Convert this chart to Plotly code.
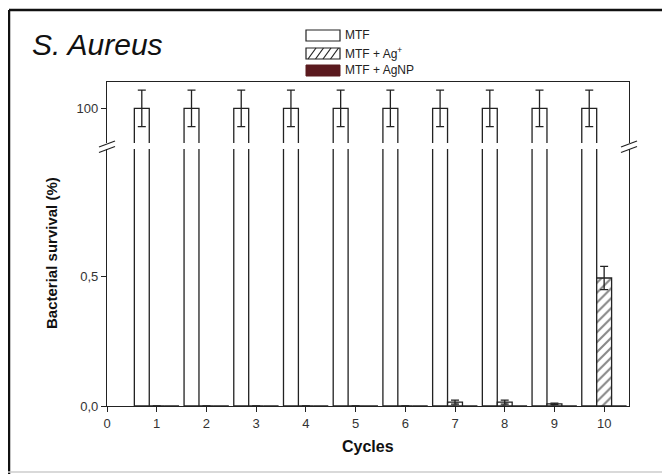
import plotly.graph_objects as go

cycles = [1, 2, 3, 4, 5, 6, 7, 8, 9, 10]
mtf = [100, 100, 100, 100, 100, 100, 100, 100, 100, 100]
mtf_err = [10, 10, 10, 10, 10, 10, 10, 10, 10, 10]
ag_ion = [0, 0, 0, 0, 0, 0, 0.015, 0.015, 0.008, 0.495]
ag_ion_err = [0, 0, 0, 0, 0, 0, 0.008, 0.008, 0.003, 0.045]
agnp = [0, 0, 0, 0, 0, 0, 0, 0, 0, 0]
series_names = ["MTF", "MTF + Ag<sup>+</sup>", "MTF + AgNP"]

# page is shown with an 8px body margin: work in page pixel coordinates
OFF = 8
W, H = 670 - OFF, 474 - OFF
PL, PR, PT, PB = 107, 629, 82, 406          # plot area in page pixels
L, R, T, B = PL - OFF, 670 - PR, PT - OFF, 474 - PB
PW, PH = PR - PL, PB - PT


def px(x):
    return (x - PL) / PW


def py(y):
    return (PB - y) / PH


LINE = "#222222"
FONT = "Liberation Sans, Arial, sans-serif"
DARKRED = "#5b1a1f"

fig = go.Figure()

for xax, yax in [("x", "y"), ("x2", "y2")]:
    fig.add_trace(go.Bar(
        x=cycles, y=mtf, name=series_names[0], xaxis=xax, yaxis=yax, showlegend=False,
        marker=dict(color="white", line=dict(color=LINE, width=1.3)),
        error_y=dict(type="data", array=mtf_err, color=LINE, thickness=1.3, width=4),
    ))
    fig.add_trace(go.Bar(
        x=cycles, y=ag_ion, name=series_names[1], xaxis=xax, yaxis=yax, showlegend=False,
        marker=dict(color="white", line=dict(color=LINE, width=1.3),
                    pattern=dict(shape="/", fgcolor="#111111", bgcolor="white",
                                 size=7, solidity=0.3)),
        error_y=dict(type="data", array=ag_ion_err, color=LINE, thickness=1.3, width=4),
    ))
    fig.add_trace(go.Bar(
        x=cycles, y=agnp, name=series_names[2], xaxis=xax, yaxis=yax, showlegend=False,
        marker=dict(color=DARKRED, line=dict(color=LINE, width=1.0)),
    ))

axis_common = dict(showgrid=False, zeroline=False, showline=True, linecolor=LINE,
                   linewidth=1.3, ticks="outside", ticklen=5, tickwidth=1.2,
                   tickcolor=LINE, tickfont=dict(family=FONT, size=13, color="#333333"))

fig.update_layout(
    width=W, height=H,
    margin=dict(l=L, r=R, t=T, b=B),
    paper_bgcolor="white", plot_bgcolor="white",
    barmode="group", bargap=0.1, bargroupgap=0,
    showlegend=False,
    xaxis=dict(**axis_common, domain=[0, 1], range=[0, 10.5], anchor="y",
               tickvals=list(range(0, 11)), mirror=False),
    xaxis2=dict(showgrid=False, zeroline=False, showline=True, linecolor=LINE,
                linewidth=1.3, side="top", anchor="y2", matches="x",
                showticklabels=False, ticks=""),
    yaxis=dict(**axis_common, domain=[0, py(149)], range=[0, 0.994], mirror=True,
               tickvals=[0, 0.5], ticktext=["0,0", "0,5"]),
    yaxis2=dict(**axis_common, domain=[py(143), 1], range=[81, 114.4], mirror=True,
                tickvals=[100], ticktext=["100"]),
)

shapes = []
# axis break marks
for xc in (PL, PR):
    for yc in (144, 149.5):
        shapes.append(dict(type="line", xref="paper", yref="paper",
                           x0=px(xc - 8), y0=py(yc + 3), x1=px(xc + 8), y1=py(yc - 3),
                           line=dict(color=LINE, width=1.3)))
# outer frame
shapes.append(dict(type="line", xref="paper", yref="paper", x0=px(9), y0=py(10),
                   x1=px(672), y1=py(10), line=dict(color="#111111", width=2.5)))
shapes.append(dict(type="line", xref="paper", yref="paper", x0=px(9), y0=py(10),
                   x1=px(9), y1=py(476), line=dict(color="#111111", width=2.5)))
shapes.append(dict(type="line", xref="paper", yref="paper", x0=px(8), y0=py(472),
                   x1=px(672), y1=py(472), line=dict(color="#cccccc", width=1.5)))

# legend swatches
lx0, lx1 = 306, 340
rows = [(30, 41), (48, 59), (65, 76)]
shapes.append(dict(type="rect", xref="paper", yref="paper", x0=px(lx0), x1=px(lx1),
                   y0=py(rows[0][1]), y1=py(rows[0][0]), fillcolor="white",
                   line=dict(color=LINE, width=1.2)))
shapes.append(dict(type="rect", xref="paper", yref="paper", x0=px(lx0), x1=px(lx1),
                   y0=py(rows[1][1]), y1=py(rows[1][0]), fillcolor="white",
                   line=dict(color=LINE, width=1.2)))
for k in range(4):
    xs = lx0 + 2 + 7.5 * k
    shapes.append(dict(type="line", xref="paper", yref="paper",
                       x0=px(xs), y0=py(rows[1][1]), x1=px(xs + 8), y1=py(rows[1][0]),
                       line=dict(color=LINE, width=1.2)))
shapes.append(dict(type="rect", xref="paper", yref="paper", x0=px(lx0), x1=px(lx1),
                   y0=py(rows[2][1]), y1=py(rows[2][0]), fillcolor=DARKRED,
                   line=dict(color=DARKRED, width=1)))

annotations = []
for name, (ya, yb) in zip(series_names, rows):
    annotations.append(dict(xref="paper", yref="paper", x=px(343), y=py((ya + yb) / 2),
                            text=name, showarrow=False, xanchor="left", yanchor="middle",
                            font=dict(family=FONT, size=12, color="#222222")))
annotations.append(dict(xref="paper", yref="paper", x=px(30), y=py(45),
                        text="<i>S. Aureus</i>", showarrow=False, xanchor="left",
                        yanchor="middle", font=dict(family=FONT, size=30, color="#111111")))
annotations.append(dict(xref="paper", yref="paper", x=px(51), y=py(253),
                        text="<b>Bacterial survival (%)</b>", showarrow=False, textangle=-90,
                        xanchor="center", yanchor="middle",
                        font=dict(family=FONT, size=15, color="#111111")))
annotations.append(dict(xref="paper", yref="paper", x=px(368), y=py(446),
                        text="<b>Cycles</b>", showarrow=False,
                        xanchor="center", yanchor="middle",
                        font=dict(family=FONT, size=16, color="#111111")))

fig.update_layout(shapes=shapes, annotations=annotations)
fig.write_html("out.html")
